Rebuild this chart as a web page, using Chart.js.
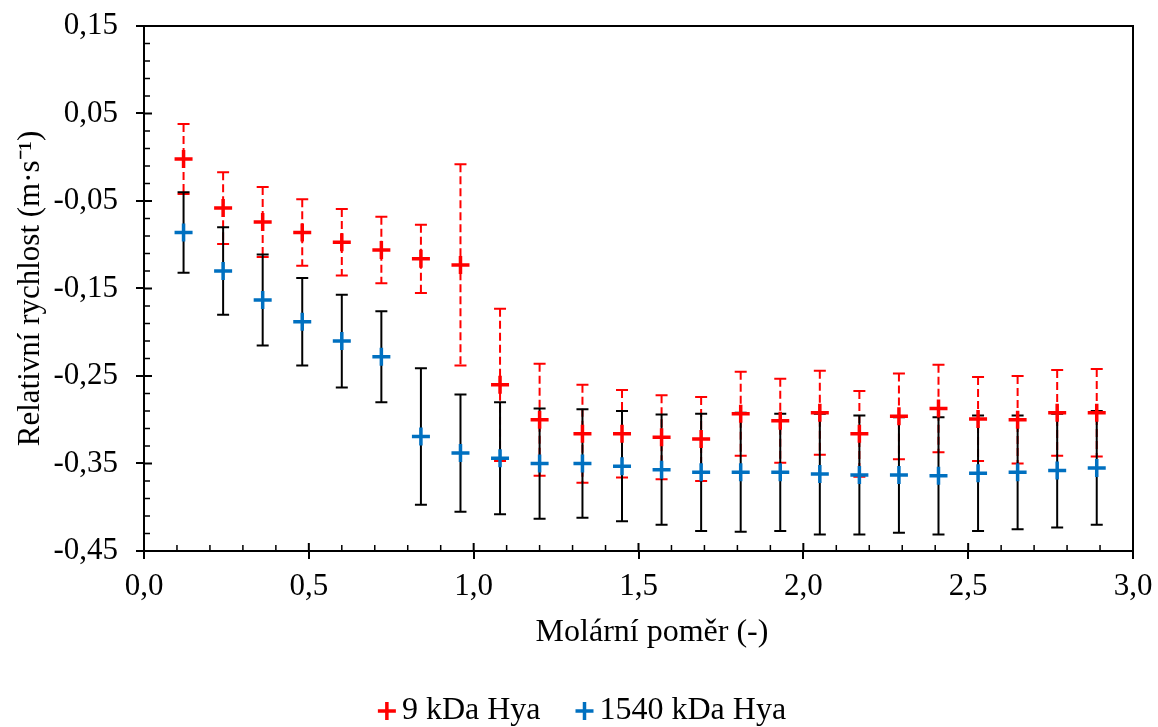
<!DOCTYPE html>
<html>
<head>
<meta charset="utf-8">
<script src="https://cdn.jsdelivr.net/npm/chart.js@4.4.1/dist/chart.umd.min.js"></script>
<style>
  html, body { margin: 0; padding: 0; background: #fff; }
  #wrap { width: 1158px; height: 727px; }
</style>
</head>
<body>
<div id="wrap"><canvas id="chart"></canvas></div>
<script>
// molar ratio (x) shared by both series
const ratio = [0.12, 0.24, 0.36, 0.48, 0.60, 0.72, 0.84, 0.96, 1.08, 1.20, 1.33, 1.45,
               1.57, 1.69, 1.81, 1.93, 2.05, 2.17, 2.29, 2.41, 2.53, 2.65, 2.77, 2.89];

// 9 kDa Hya
const hya9 = [-0.002, -0.058, -0.074, -0.086, -0.097, -0.106, -0.116, -0.123, -0.260, -0.300, -0.316, -0.316,
              -0.320, -0.322, -0.293, -0.301, -0.292, -0.316, -0.296, -0.287, -0.299, -0.300, -0.292, -0.292];
const hya9Err = [0.040, 0.041, 0.040, 0.038, 0.038, 0.038, 0.039, 0.115, 0.087, 0.064, 0.056, 0.050,
                 0.048, 0.048, 0.048, 0.048, 0.048, 0.049, 0.049, 0.050, 0.048, 0.050, 0.049, 0.050];

// 1540 kDa Hya
const hya1540 = [-0.086, -0.130, -0.163, -0.188, -0.210, -0.228, -0.319, -0.338, -0.344, -0.350, -0.350, -0.353,
                 -0.357, -0.360, -0.360, -0.360, -0.362, -0.363, -0.363, -0.364, -0.361, -0.360, -0.358, -0.355];
const hya1540Err = [0.046, 0.050, 0.052, 0.050, 0.053, 0.052, 0.078, 0.067, 0.064, 0.063, 0.062, 0.063,
                    0.063, 0.067, 0.068, 0.067, 0.069, 0.068, 0.066, 0.067, 0.066, 0.065, 0.065, 0.065];

const xTicks = [0, 0.5, 1.0, 1.5, 2.0, 2.5, 3.0];
const yTicks = [-0.45, -0.35, -0.25, -0.15, -0.05, 0.05, 0.15];
const seriesNames = ['9 kDa Hya', '1540 kDa Hya'];
const xTitle = 'Molární poměr (-)';
const yTitle = 'Relativní rychlost (m·s⁻¹)';

const FONT = "'Liberation Serif', 'Times New Roman', serif";

function toPoints(ys) {
  return ys.map((v, i) => ({ x: ratio[i], y: v }));
}

// vertical error bars, drawn under the markers
const errorBars = {
  id: 'errorBars',
  beforeDatasetsDraw(chart) {
    const { ctx, scales: { x, y } } = chart;
    chart.data.datasets.forEach(ds => {
      ctx.save();
      ctx.strokeStyle = ds.errColor;
      ctx.lineWidth = 2;
      ds.data.forEach((p, i) => {
        const px = x.getPixelForValue(p.x);
        const top = y.getPixelForValue(p.y + ds.err[i]);
        const bot = y.getPixelForValue(p.y - ds.err[i]);
        ctx.setLineDash(ds.errDash);
        ctx.beginPath();
        ctx.moveTo(px, top);
        ctx.lineTo(px, bot);
        ctx.stroke();
        ctx.setLineDash([]);
        ctx.beginPath();
        ctx.moveTo(px - 6, top); ctx.lineTo(px + 6, top);
        ctx.moveTo(px - 6, bot); ctx.lineTo(px + 6, bot);
        ctx.stroke();
      });
      ctx.restore();
    });
  }
};

// box frame + inner major/minor ticks
const frame = {
  id: 'frame',
  beforeDatasetsDraw(chart) {
    const { ctx, chartArea: a, scales: { x, y } } = chart;
    ctx.save();
    ctx.strokeStyle = '#000';
    ctx.lineWidth = 2;
    ctx.beginPath();
    ctx.moveTo(a.left - 8, a.top); ctx.lineTo(a.right, a.top);
    ctx.lineTo(a.right, a.bottom);
    ctx.stroke();

    ctx.beginPath();
    yTicks.forEach(v => {
      const py = y.getPixelForValue(v);
      ctx.moveTo(a.left, py); ctx.lineTo(a.left + 8, py);
    });
    xTicks.forEach(v => {
      const px = x.getPixelForValue(v);
      ctx.moveTo(px, a.bottom); ctx.lineTo(px, a.bottom - 8);
    });
    ctx.stroke();

    ctx.lineWidth = 1.5;
    ctx.beginPath();
    for (let i = 1; i < 30; i++) {
      if (i % 5 === 0) continue;
      const px = x.getPixelForValue(i / 10);
      ctx.moveTo(px, a.bottom); ctx.lineTo(px, a.bottom - 6);
    }
    for (let i = 1; i < 30; i++) {
      if (i % 5 === 0) continue;
      const py = y.getPixelForValue(-0.45 + i * 0.02);
      ctx.moveTo(a.left, py); ctx.lineTo(a.left + 6, py);
    }
    ctx.stroke();
    ctx.restore();
  }
};

// x axis title (sits a bit right of centre) and legend at the bottom
const bottomText = {
  id: 'bottomText',
  afterDraw(chart) {
    const { ctx } = chart;
    const colors = chart.data.datasets.map(d => d.pointBorderColor);
    ctx.save();
    ctx.font = '32px ' + FONT;
    ctx.textBaseline = 'middle';
    ctx.textAlign = 'center';
    ctx.fillStyle = '#000';
    ctx.fillText(xTitle, 652, 633);

    ctx.textAlign = 'left';
    const mark = 18, gap = 6, spacing = 35;
    const widths = seriesNames.map(n => mark + gap + ctx.measureText(n).width);
    const total = widths.reduce((s, w) => s + w, 0) + spacing * (widths.length - 1);
    let xPos = 582 - total / 2;
    const yMid = 711;
    seriesNames.forEach((name, i) => {
      ctx.strokeStyle = colors[i];
      ctx.lineWidth = 3.5;
      Chart.helpers.drawPoint(ctx, { pointStyle: 'cross', radius: 9, borderWidth: 3.5, rotation: 0 }, xPos + mark / 2, yMid);
      ctx.fillStyle = '#000';
      ctx.fillText(name, xPos + mark + gap, yMid);
      xPos += widths[i] + spacing;
    });
    ctx.restore();
  }
};

Chart.defaults.font.family = FONT;
Chart.defaults.font.size = 31;
Chart.defaults.color = '#000';

new Chart(document.getElementById('chart'), {
  type: 'scatter',
  data: {
    datasets: [
      {
        label: seriesNames[0],
        data: toPoints(hya9),
        err: hya9Err,
        errColor: '#ff0000',
        errDash: [8, 4],
        pointStyle: 'cross',
        pointRadius: 9,
        pointHoverRadius: 9,
        pointBorderWidth: 3.5,
        pointBorderColor: '#ff0000',
        pointBackgroundColor: '#ff0000'
      },
      {
        label: seriesNames[1],
        data: toPoints(hya1540),
        err: hya1540Err,
        errColor: '#000000',
        errDash: [],
        pointStyle: 'cross',
        pointRadius: 9,
        pointHoverRadius: 9,
        pointBorderWidth: 3.5,
        pointBorderColor: '#0070c0',
        pointBackgroundColor: '#0070c0'
      }
    ]
  },
  options: {
    responsive: true,
    maintainAspectRatio: false,
    animation: false,
    layout: { padding: { left: 8, right: 25, top: 26, bottom: 70 } },
    plugins: {
      legend: { display: false },
      tooltip: { enabled: false }
    },
    scales: {
      x: {
        type: 'linear',
        min: 0,
        max: 3,
        afterBuildTicks: s => { s.ticks = xTicks.map(v => ({ value: v })); },
        afterFit: s => { s.height = 106; s.paddingLeft = 0; s.paddingRight = 0; },
        ticks: {
          padding: 9,
          autoSkip: false,
          maxRotation: 0,
          callback: v => v.toFixed(1).replace('.', ',')
        },
        grid: { drawOnChartArea: false, tickLength: 8, color: '#000', lineWidth: 2 },
        border: { display: true, color: '#000', width: 2 }
      },
      y: {
        type: 'linear',
        min: -0.45,
        max: 0.15,
        afterBuildTicks: s => { s.ticks = yTicks.map(v => ({ value: v })); },
        afterFit: s => { s.width = 136; s.paddingTop = 0; s.paddingBottom = 0; },
        ticks: {
          padding: 18,
          autoSkip: false,
          callback: v => v.toFixed(2).replace('.', ',')
        },
        grid: { drawOnChartArea: false, tickLength: 8, color: '#000', lineWidth: 2 },
        border: { display: true, color: '#000', width: 2 },
        title: {
          display: true,
          text: yTitle,
          padding: { top: 4, bottom: 0 }
        }
      }
    }
  },
  plugins: [errorBars, frame, bottomText]
});
</script>
</body>
</html>
